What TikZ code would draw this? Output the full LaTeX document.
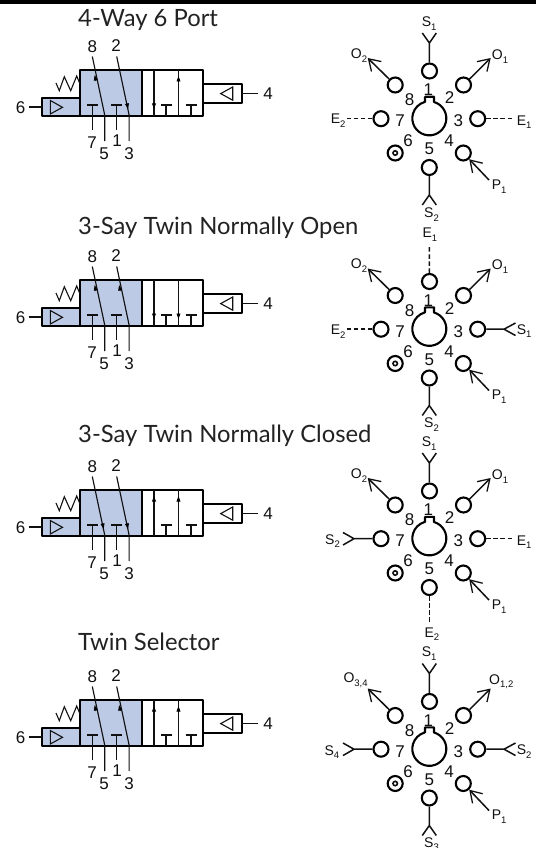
\documentclass[tikz,border=0pt]{standalone}
\usepackage{fontspec}
\setmainfont{Liberation Sans}
\newfontfamily\titlefont{Lato}
\usetikzlibrary{arrows.meta}
\definecolor{valveblue}{HTML}{BCCAE6}
\definecolor{titleink}{HTML}{222222}
\definecolor{ink}{HTML}{111111}
\tikzset{
  heavy/.style={line width=2.1pt,draw=black,line join=round},
  thin line/.style={line width=1.1pt,draw=ink},
  wire/.style={line width=1.15pt,draw=ink},
  dwire/.style={line width=1.5pt,draw=ink},
  dashwire/.style={line width=1.5pt,draw=ink,dash pattern=on 4.5pt off 2.6pt},
  openhead/.style={-{Straight Barb[length=11pt,width=14pt,line width=1.3pt]}},
  solidhead/.style={-{Stealth[length=5.5pt,width=3.8pt,inset=0pt]},line width=0.8pt,draw=black},
  port/.style={circle,draw=black,line width=2.1pt,fill=white,minimum size=15pt,inner sep=0pt},
  title/.style={anchor=base west,inner sep=0pt,text=titleink,font=\titlefont\fontsize{23.8}{24}\selectfont},
  num/.style={inner sep=0pt,text=ink,font=\fontsize{17}{18}\selectfont},
  sublab/.style={anchor=base west,inner sep=0pt,text=ink,font=\fontsize{14}{15}\selectfont},
}
\newcommand{\sublabel}[2]{#1\raisebox{-3.8pt}{\fontsize{9.5}{10}\selectfont #2}}
\newcommand{\UpA}[1]{\draw[solidhead] (95.9,81) -- (94.7,75);}
\newcommand{\UpB}[1]{\draw[solidhead] (120.3,81) -- (119.1,75);}
\newcommand{\DnA}[1]{\draw[solidhead] (102.4,103) -- (103.7,109);}
\newcommand{\DnB}[1]{\draw[solidhead] (126.8,103) -- (128.1,109);}
\newcommand{\UpC}[1]{\draw[solidhead] (154,82) -- (154,76);}
\newcommand{\DnC}[1]{\draw[solidhead] (154,103) -- (154,109);}
\newcommand{\UpD}[1]{\draw[solidhead] (178.5,82) -- (178.5,76);}
\newcommand{\DnD}[1]{\draw[solidhead] (178.5,103) -- (178.5,109);}
\newcommand{\valve}[3]{%
\begin{scope}[shift={(0,#2)}]
  \fill[valveblue] (42,98) rectangle (80,116);
  \fill[valveblue] (80,70) rectangle (142,116);
  \draw[heavy] (80,98) -- (42,98) -- (42,116) -- (80,116);
  \draw[heavy] (80,70) rectangle (203,116);
  \draw[heavy] (142,70) -- (142,116);
  \draw[heavy] (203,84) -- (242,84) -- (242,103) -- (203,103);
  \draw[thin line,line join=miter] (50.3,100.5) -- (62.5,107.3) -- (50.3,114) -- cycle;
  \draw[thin line,line join=miter] (220.7,93.6) -- (232.7,87) -- (232.7,100.2) -- cycle;
  \draw[thin line] (56,83) -- (59.3,90.7) -- (64.3,76.7) -- (70.7,90.7) -- (76.7,76) -- (80,84);
  \node[num] (#1-n8) at (92.3,46.5) {8};
  \node[num] (#1-n2) at (116,46) {2};
  \node[num] (#1-n7) at (92,142.5) {7};
  \node[num] (#1-n5) at (104,154) {5};
  \node[num] (#1-n1) at (117,141) {1};
  \node[num] (#1-n3) at (129,154) {3};
  \node[num] (#1-n6) at (20.5,107.5) {6};
  \node[num] (#1-n4) at (268,94) {4};
  \draw[wire] (28.5,107) -- (42,107);
  \draw[wire] (242,93.5) -- (258,93.5);
  \draw[wire] (92.3,56.5) -- (104.7,115) -- (104.7,141);
  \draw[wire] (116.7,56.5) -- (129.1,115) -- (129.1,141);
  \draw[wire] (92.3,130) -- (92.3,105) (87,105) -- (97.6,105);
  \draw[wire] (116.7,130) -- (116.7,105) (111.4,105) -- (122,105);
  \draw[wire] (154,70) -- (154,116);
  \draw[wire] (178.5,70) -- (178.5,116);
  \draw[wire] (166,116) -- (166,105) (160.5,105) -- (171.5,105);
  \draw[wire] (191,116) -- (191,105) (185.5,105) -- (196.5,105);
  #3
\end{scope}}
\newcommand{\dial}[3]{%
\begin{scope}[shift={(0,#2)}]
  \draw[heavy] (425,101.8) -- (425,96.8) -- (434,96.8) -- (434,102) arc[start angle=74,end angle=-254,radius=17pt] -- cycle;
  \node[port] (#1-p1) at (429.5,71) {};
  \node[port] (#1-p2) at (463.5,85) {};
  \node[port] (#1-p3) at (477.7,118.7) {};
  \node[port] (#1-p4) at (463.3,153) {};
  \node[port] (#1-p5) at (429.3,167.5) {};
  \node[port] (#1-p6) at (395.2,153) {};
  \node[port] (#1-p7) at (381,118.7) {};
  \node[port] (#1-p8) at (395.2,85) {};
  \draw[ink,line width=1.6pt] (395.2,153) circle (2.2pt);
  \node[num] (#1-k1) at (428.3,90) {1};
  \node[num] (#1-k2) at (449.7,98) {2};
  \node[num] (#1-k3) at (458.3,120.7) {3};
  \node[num] (#1-k4) at (449,140.7) {4};
  \node[num] (#1-k5) at (429.3,149) {5};
  \node[num] (#1-k6) at (408,140.7) {6};
  \node[num] (#1-k7) at (400,120.7) {7};
  \node[num] (#1-k8) at (409.7,100) {8};
  \coordinate (#1-o1) at (490.7,58);
  \coordinate (#1-o2) at (367.7,58);
  \coordinate (#1-pr) at (489,180);
  \draw[dwire,openhead] (#1-p2) -- (#1-o1);
  \draw[dwire,openhead] (#1-p8) -- (#1-o2);
  \draw[dwire,openhead] (#1-pr) -- (#1-p4);
  \node[sublab] (#1-lp) at (491.7,189.3) {\sublabel{P}{1}};
  #3
\end{scope}}
\newcommand{\topfork}[1]{\coordinate (#1-j1) at (429.4,43); \draw[dwire] (#1-p1) -- (#1-j1) (422.3,33) -- (#1-j1) -- (436.3,33);}
\newcommand{\botfork}[1]{\coordinate (#1-j5) at (429.3,195); \draw[dwire] (#1-p5) -- (#1-j5) (422.3,205) -- (#1-j5) -- (436.3,205);}
\newcommand{\rightfork}[1]{\coordinate (#1-j3) at (504,118.7); \draw[dwire] (#1-p3) -- (#1-j3) (515.5,112.5) -- (#1-j3) -- (515.5,125);}
\newcommand{\leftfork}[1]{\coordinate (#1-j7) at (354,118.7); \draw[dwire] (#1-p7) -- (#1-j7) (343,112.5) -- (#1-j7) -- (343,125);}
\newcommand{\topdash}[1]{\coordinate (#1-j1) at (429.4,34.5); \draw[dashwire] (#1-p1) -- (#1-j1);}
\newcommand{\botdash}[1]{\coordinate (#1-j5) at (429.3,203); \draw[dashwire] (#1-p5) -- (#1-j5);}
\newcommand{\rightdash}[1]{\coordinate (#1-j3) at (513.5,118.7); \draw[dashwire] (#1-p3) -- (#1-j3);}
\newcommand{\leftdash}[1]{\coordinate (#1-j7) at (345,118.7); \draw[dashwire] (#1-p7) -- (#1-j7);}
\begin{document}
\begin{tikzpicture}[x=1pt,y=-1pt]
\useasboundingbox (0,0) rectangle (536,848);
\fill[white] (0,0) rectangle (536,848);
\fill[black] (0,0) rectangle (536,4);
\node[title] (t1) at (78,26.5) {4-Way 6 Port};
\node[title] (t2) at (78,234.3) {3-Say Twin Normally Open};
\node[title] (t3) at (78,442.8) {3-Say Twin Normally Closed};
\node[title] (t4) at (78,650.5) {Twin Selector};
\valve{va}{0}{\UpA{}\DnB{}\DnC{}\UpD{}}
\valve{vb}{210}{\UpA{}\UpB{}\DnC{}\DnD{}}
\valve{vc}{420}{\DnA{}\DnB{}\UpC{}\UpD{}}
\valve{vd}{630}{\UpA{}\UpB{}\UpC{}\UpD{}}
\dial{da}{0}{%
  \topfork{da}\botfork{da}\rightdash{da}\leftdash{da}
  \node[sublab] (da-l1) at (421.7,26.7) {\sublabel{S}{1}};
  \node[sublab] (da-l5) at (424,217.3) {\sublabel{S}{2}};
  \node[sublab] (da-l3) at (516.7,125) {\sublabel{E}{1}};
  \node[sublab] (da-l7) at (330.7,124) {\sublabel{E}{2}};
  \node[sublab] (da-l2) at (491.7,59.3) {\sublabel{O}{1}};
  \node[sublab] (da-l8) at (350.7,58.3) {\sublabel{O}{2}};}
\dial{db}{210.5}{%
  \topdash{db}\botfork{db}\rightfork{db}\leftdash{db}
  \node[sublab] (db-l1) at (422.3,26.8) {\sublabel{E}{1}};
  \node[sublab] (db-l5) at (424,217.3) {\sublabel{S}{2}};
  \node[sublab] (db-l3) at (516.7,123.5) {\sublabel{S}{1}};
  \node[sublab] (db-l7) at (330.7,124) {\sublabel{E}{2}};
  \node[sublab] (db-l2) at (491.7,59.3) {\sublabel{O}{1}};
  \node[sublab] (db-l8) at (350.7,58.3) {\sublabel{O}{2}};}
\dial{dc}{420}{%
  \topfork{dc}\botdash{dc}\rightdash{dc}\leftfork{dc}
  \node[sublab] (dc-l1) at (421.7,26.7) {\sublabel{S}{1}};
  \node[sublab] (dc-l5) at (424.3,217) {\sublabel{E}{2}};
  \node[sublab] (dc-l3) at (516.7,125) {\sublabel{E}{1}};
  \node[sublab] (dc-l7) at (325,124) {\sublabel{S}{2}};
  \node[sublab] (dc-l2) at (491.7,59.3) {\sublabel{O}{1}};
  \node[sublab] (dc-l8) at (350.7,58.3) {\sublabel{O}{2}};}
\dial{dd}{630.5}{%
  \topfork{dd}\botfork{dd}\rightfork{dd}\leftfork{dd}
  \node[sublab] (dd-l1) at (421.7,26.2) {\sublabel{S}{1}};
  \node[sublab] (dd-l5) at (424,216.5) {\sublabel{S}{3}};
  \node[sublab] (dd-l3) at (516.7,124) {\sublabel{S}{2}};
  \node[sublab] (dd-l7) at (324.3,124.5) {\sublabel{S}{4}};
  \node[sublab] (dd-l2) at (489,53.5) {\sublabel{O}{1,2}};
  \node[sublab] (dd-l8) at (343.3,52) {\sublabel{O}{3,4}};}
\end{tikzpicture}
\end{document}
